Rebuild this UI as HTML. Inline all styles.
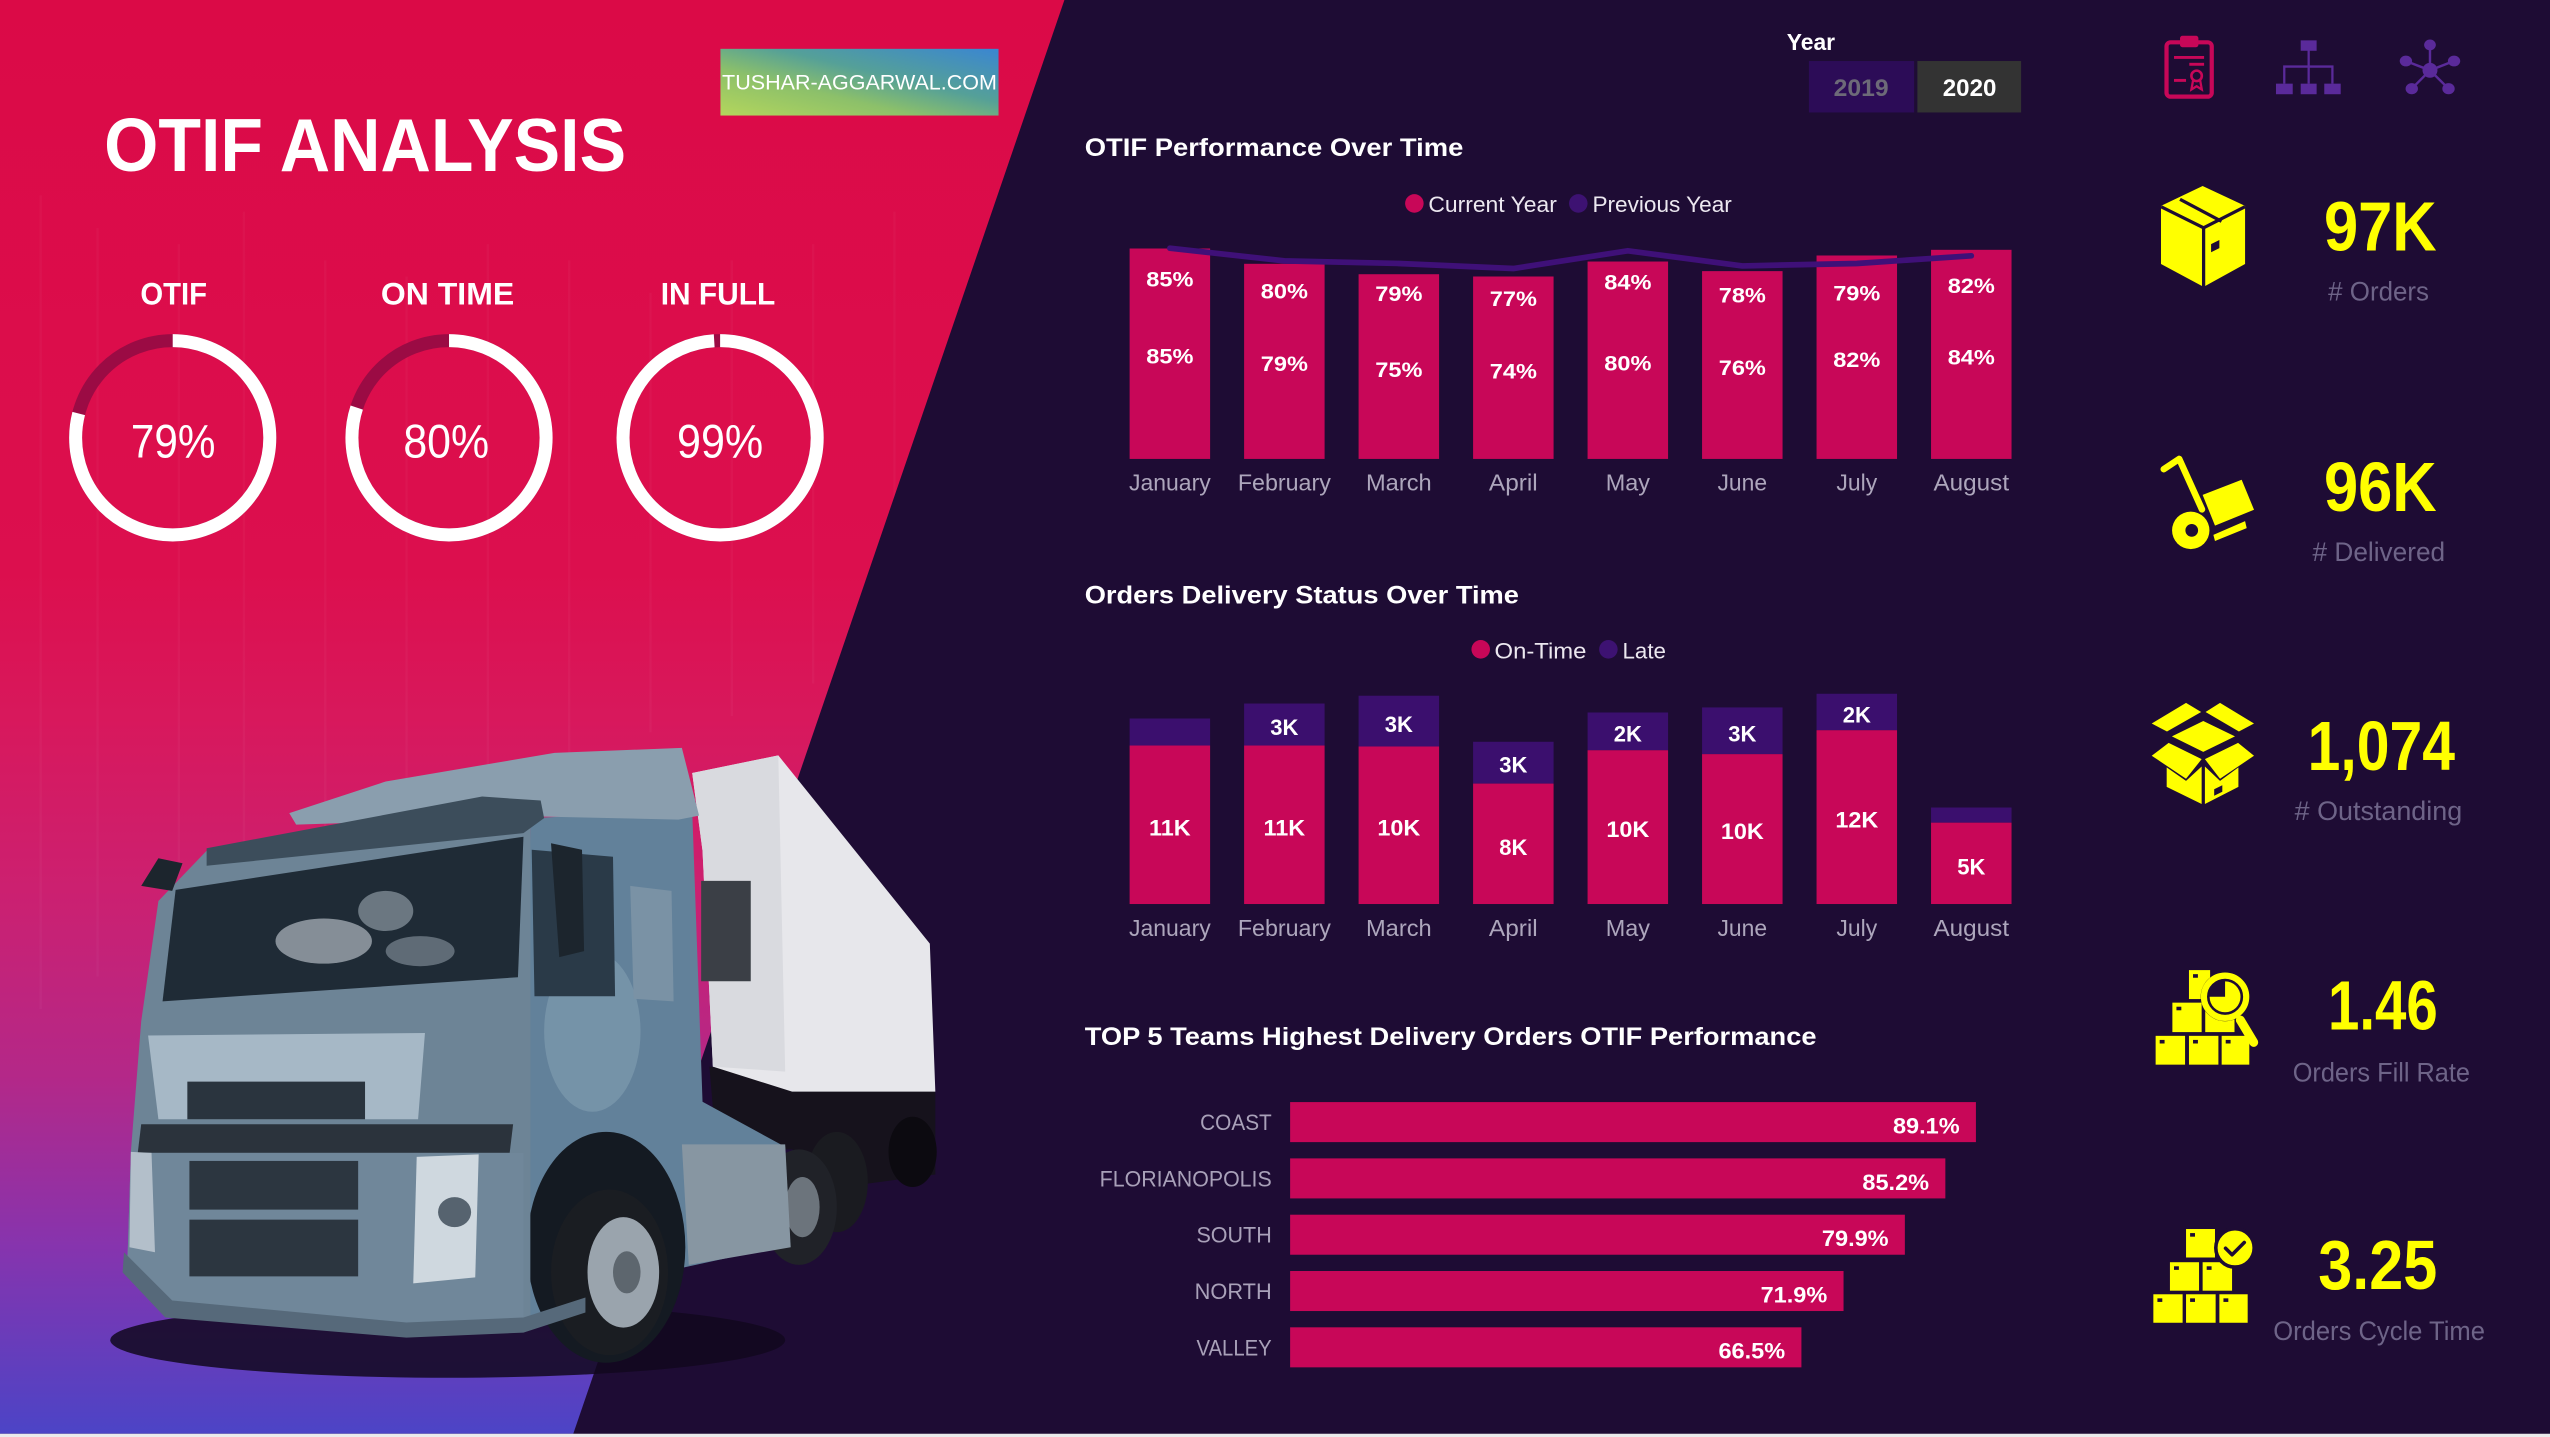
<!DOCTYPE html>
<html><head><meta charset="utf-8">
<style>
html,body{margin:0;padding:0;background:#1e0c34;width:2550px;height:1437px;overflow:hidden}
svg{display:block}
text{font-family:"Liberation Sans",Arial,sans-serif}
</style></head><body>
<svg width="2550" height="1437" viewBox="0 0 1568 883" preserveAspectRatio="none" xmlns="http://www.w3.org/2000/svg">
<defs>
<linearGradient id="lg" x1="0" y1="0" x2="0" y2="1">
 <stop offset="0" stop-color="#db0a47"/>
 <stop offset="0.4" stop-color="#dc0f4e"/>
 <stop offset="0.5" stop-color="#d8185c"/>
 <stop offset="0.62" stop-color="#cc2070"/>
 <stop offset="0.75" stop-color="#b42888"/>
 <stop offset="0.87" stop-color="#8634ae"/>
 <stop offset="1" stop-color="#4c44c6"/>
</linearGradient>
<linearGradient id="logo" x1="0" y1="1" x2="1" y2="0">
 <stop offset="0" stop-color="#b4d65c"/>
 <stop offset="0.35" stop-color="#8cc06a"/>
 <stop offset="0.6" stop-color="#55a098"/>
 <stop offset="1" stop-color="#3a86d2"/>
</linearGradient>
<clipPath id="lp"><polygon points="0,0 654.5,0 352.5,881 0,881"/></clipPath>
</defs>

<rect width="1568" height="883" fill="#1e0c34"/>
<polygon points="0,0 654.5,0 352.5,881 0,881" fill="url(#lg)"/>
<g clip-path="url(#lp)" stroke="#ffffff" stroke-opacity="0.03" stroke-width="1.5" fill="none">
 <line x1="25" y1="120" x2="25" y2="620"/><line x1="60" y1="140" x2="60" y2="600"/>
 <line x1="110" y1="150" x2="110" y2="610"/><line x1="150" y1="130" x2="150" y2="580"/>
 <line x1="200" y1="160" x2="200" y2="560"/><line x1="250" y1="170" x2="250" y2="540"/>
 <line x1="300" y1="150" x2="300" y2="500"/><line x1="350" y1="160" x2="350" y2="470"/>
 <line x1="400" y1="180" x2="400" y2="450"/><line x1="450" y1="160" x2="450" y2="440"/>
 <line x1="500" y1="150" x2="500" y2="420"/><line x1="550" y1="130" x2="550" y2="330"/>
</g>
<rect x="0" y="881" width="1568" height="2" fill="#ebebeb"/>

<!-- Truck -->
<g transform="translate(0,399.4) scale(0.42352,0.30841)">
 <ellipse cx="650" cy="1375" rx="490" ry="75" fill="#12081e" opacity="0.85"/>
 <polygon points="1030,830 1358,880 1358,1045 1250,1065 1150,995 1040,995" fill="#16121c"/>
 <ellipse cx="1325" cy="1000" rx="35" ry="70" fill="#0c0a10"/>
 <polygon points="1005,245 1130,210 1350,585 1358,880 1150,880 1035,830 1020,400" fill="#e7e7eb"/>
 <polygon points="1005,245 1130,210 1140,840 1035,830 1020,400" fill="#d9dadf"/>
 <rect x="1018" y="460" width="72" height="200" fill="#3b3f46"/>
 <ellipse cx="1215" cy="1060" rx="45" ry="100" fill="#1a1b20"/>
 <ellipse cx="1160" cy="1110" rx="55" ry="115" fill="#202228"/>
 <ellipse cx="1165" cy="1110" rx="25" ry="60" fill="#6c747c"/>
 <polygon points="770,335 1005,320 1020,900 1140,990 1145,1185 960,1240 850,1300 760,1335" fill="#62819a"/>
 <ellipse cx="860" cy="760" rx="70" ry="160" fill="#8fa8bb" opacity="0.45"/>
 <polygon points="990,985 1140,985 1148,1190 1000,1225" fill="#8796a2"/>
 <ellipse cx="880" cy="1190" rx="115" ry="230" fill="#141a22"/>
 <ellipse cx="885" cy="1240" rx="85" ry="165" fill="#1a1d22"/>
 <ellipse cx="905" cy="1240" rx="52" ry="110" fill="#9aa4ad"/>
 <ellipse cx="910" cy="1240" rx="20" ry="42" fill="#5d666e"/>
 <polygon points="420,325 560,262 805,205 990,195 1015,330 985,338 790,332 430,348" fill="#8a9eae"/>
 <polygon points="300,400 770,338 770,1335 590,1345 250,1300 185,1220 190,1000 205,740 230,500" fill="#6d8496"/>
 <polygon points="300,395 700,292 785,300 790,335 760,365 300,430" fill="#3c4d5b"/>
 <polygon points="255,478 760,372 752,652 236,700" fill="#1f2b36"/>
 <ellipse cx="470" cy="580" rx="70" ry="45" fill="#d8e0e8" opacity="0.55"/>
 <ellipse cx="560" cy="520" rx="40" ry="40" fill="#c8d4de" opacity="0.45"/>
 <ellipse cx="610" cy="600" rx="50" ry="30" fill="#c0ccd8" opacity="0.4"/>
 <polygon points="772,398 890,412 893,690 776,690" fill="#2a3a48"/>
 <polygon points="915,470 975,480 978,700 920,695" fill="#7a92a5"/>
 <polygon points="800,385 845,398 848,600 812,612" fill="#1c252d"/>
 <polygon points="205,470 230,415 265,425 250,480" fill="#1c252d"/>
 <polygon points="215,768 617,763 607,935 230,935" fill="#a6b8c6"/>
 <rect x="272" y="860" width="258" height="75" fill="#2a343e"/>
 <polygon points="205,945 745,945 740,1002 200,1002" fill="#2b333c"/>
 <polygon points="190,1002 760,1002 760,1330 590,1340 250,1296 185,1218" fill="#70879a"/>
 <rect x="275" y="1018" width="245" height="97" fill="#2c3640"/>
 <rect x="275" y="1135" width="245" height="113" fill="#2c3640"/>
 <polygon points="605,1010 695,1005 690,1250 600,1262" fill="#cfd8df"/>
 <ellipse cx="660" cy="1120" rx="24" ry="30" fill="#56636f"/>
 <polygon points="190,1000 220,1002 225,1200 188,1190" fill="#b3bfca"/>
 <polygon points="180,1200 250,1296 590,1340 760,1330 850,1290 850,1320 760,1360 590,1370 240,1330 178,1240" fill="#56697a"/>
</g>

<!-- Logo -->
<rect x="443" y="30" width="171" height="41" fill="url(#logo)"/>
<text x="444" y="55" font-size="13" fill="#ffffff" textLength="169" lengthAdjust="spacingAndGlyphs">TUSHAR-AGGARWAL.COM</text>

<!-- Title -->
<text x="64" y="105" font-size="46" font-weight="bold" fill="#ffffff" textLength="321" lengthAdjust="spacingAndGlyphs">OTIF ANALYSIS</text>

<!-- KPI rings -->
<g font-weight="bold" font-size="19.5" fill="#ffffff">
 <text x="86.3" y="187" textLength="41" lengthAdjust="spacingAndGlyphs">OTIF</text>
 <text x="234.2" y="187" textLength="82" lengthAdjust="spacingAndGlyphs">ON TIME</text>
 <text x="406.3" y="187" textLength="70.4" lengthAdjust="spacingAndGlyphs">IN FULL</text>
</g>
<g fill="none" stroke-width="8">
 <circle cx="106.2" cy="269" r="59.7" stroke="#9b0b44"/>
 <circle cx="106.2" cy="269" r="59.7" stroke="#ffffff" stroke-dasharray="296.3 400" transform="rotate(-90 106.2 269)"/>
 <circle cx="276.1" cy="269" r="59.7" stroke="#9b0b44"/>
 <circle cx="276.1" cy="269" r="59.7" stroke="#ffffff" stroke-dasharray="300.1 400" transform="rotate(-90 276.1 269)"/>
 <circle cx="442.8" cy="269" r="59.7" stroke="#9b0b44"/>
 <circle cx="442.8" cy="269" r="59.7" stroke="#ffffff" stroke-dasharray="371.3 400" transform="rotate(-90 442.8 269)"/>
</g>
<g font-size="29" fill="#ffffff">
 <text x="80.5" y="281" textLength="52" lengthAdjust="spacingAndGlyphs">79%</text>
 <text x="248" y="281" textLength="52.7" lengthAdjust="spacingAndGlyphs">80%</text>
 <text x="416.3" y="281" textLength="53" lengthAdjust="spacingAndGlyphs">99%</text>
</g>

<!-- Year slicer -->
<text x="1098.7" y="30.7" font-size="14" font-weight="bold" fill="#ffffff" textLength="29.7" lengthAdjust="spacingAndGlyphs">Year</text>
<rect x="1112.3" y="37.5" width="64.7" height="31.6" fill="#2c0c57"/>
<rect x="1179" y="37.5" width="63.8" height="31.6" fill="#333333"/>
<text x="1127.5" y="59" font-size="14.6" font-weight="bold" fill="#6d6a78" textLength="33.8" lengthAdjust="spacingAndGlyphs">2019</text>
<text x="1194.6" y="59" font-size="14.6" font-weight="bold" fill="#ffffff" textLength="33" lengthAdjust="spacingAndGlyphs">2020</text>

<!-- Chart 1 -->
<text x="667" y="95.9" font-size="15.2" font-weight="bold" fill="#ffffff" textLength="232.8" lengthAdjust="spacingAndGlyphs">OTIF Performance Over Time</text>
<circle cx="869.7" cy="125" r="5.7" fill="#c80758"/>
<text x="878.3" y="130.2" font-size="13.5" fill="#ece8f0" textLength="79" lengthAdjust="spacingAndGlyphs">Current Year</text>
<circle cx="970.5" cy="125" r="5.7" fill="#3d1272"/>
<text x="979.2" y="130.2" font-size="13.5" fill="#ece8f0" textLength="85.7" lengthAdjust="spacingAndGlyphs">Previous Year</text>

<g fill="#c80758">
 <rect x="694.6" y="152.7" width="49.5" height="129.3"/>
 <rect x="765.0" y="162.1" width="49.5" height="119.9"/>
 <rect x="835.4" y="168.5" width="49.5" height="113.5"/>
 <rect x="905.8" y="169.9" width="49.5" height="112.1"/>
 <rect x="976.2" y="160.7" width="49.5" height="121.3"/>
 <rect x="1046.6" y="166.6" width="49.5" height="115.4"/>
 <rect x="1117.0" y="157.0" width="49.5" height="125.0"/>
 <rect x="1187.4" y="153.5" width="49.5" height="128.5"/>
</g>
<polyline points="719.35,152.5 789.75,160.3 860.15,161.9 930.55,165.0 1000.95,154.1 1071.35,163.4 1141.75,161.9 1212.15,157.2" fill="none" stroke="#3f1078" stroke-width="3.5" stroke-linecap="round" stroke-linejoin="round"/>
<g font-size="13" font-weight="bold" fill="#ffffff" text-anchor="middle">
 <text x="719.35" y="176.0" textLength="29" lengthAdjust="spacingAndGlyphs">85%</text>
 <text x="789.75" y="183.3" textLength="29" lengthAdjust="spacingAndGlyphs">80%</text>
 <text x="860.15" y="185.0" textLength="29" lengthAdjust="spacingAndGlyphs">79%</text>
 <text x="930.55" y="188.0" textLength="29" lengthAdjust="spacingAndGlyphs">77%</text>
 <text x="1000.95" y="177.8" textLength="29" lengthAdjust="spacingAndGlyphs">84%</text>
 <text x="1071.35" y="185.8" textLength="29" lengthAdjust="spacingAndGlyphs">78%</text>
 <text x="1141.75" y="184.6" textLength="29" lengthAdjust="spacingAndGlyphs">79%</text>
 <text x="1212.15" y="180.0" textLength="29" lengthAdjust="spacingAndGlyphs">82%</text>
 <text x="719.35" y="223.3" textLength="29" lengthAdjust="spacingAndGlyphs">85%</text>
 <text x="789.75" y="228.0" textLength="29" lengthAdjust="spacingAndGlyphs">79%</text>
 <text x="860.15" y="231.7" textLength="29" lengthAdjust="spacingAndGlyphs">75%</text>
 <text x="930.55" y="232.5" textLength="29" lengthAdjust="spacingAndGlyphs">74%</text>
 <text x="1000.95" y="227.6" textLength="29" lengthAdjust="spacingAndGlyphs">80%</text>
 <text x="1071.35" y="230.5" textLength="29" lengthAdjust="spacingAndGlyphs">76%</text>
 <text x="1141.75" y="225.6" textLength="29" lengthAdjust="spacingAndGlyphs">82%</text>
 <text x="1212.15" y="223.9" textLength="29" lengthAdjust="spacingAndGlyphs">84%</text>
</g>
<g font-size="14" fill="#ada6bc" text-anchor="middle">
 <text x="719.35" y="301.3" textLength="50.3" lengthAdjust="spacingAndGlyphs">January</text>
 <text x="789.75" y="301.3" textLength="57.2" lengthAdjust="spacingAndGlyphs">February</text>
 <text x="860.15" y="301.3" textLength="40.4" lengthAdjust="spacingAndGlyphs">March</text>
 <text x="930.55" y="301.3" textLength="30" lengthAdjust="spacingAndGlyphs">April</text>
 <text x="1000.95" y="301.3" textLength="27.2" lengthAdjust="spacingAndGlyphs">May</text>
 <text x="1071.35" y="301.3" textLength="30.5" lengthAdjust="spacingAndGlyphs">June</text>
 <text x="1141.75" y="301.3" textLength="25.1" lengthAdjust="spacingAndGlyphs">July</text>
 <text x="1212.15" y="301.3" textLength="46.5" lengthAdjust="spacingAndGlyphs">August</text>
</g>

<!-- Chart 2 -->
<text x="667" y="370.7" font-size="15.5" font-weight="bold" fill="#ffffff" textLength="267" lengthAdjust="spacingAndGlyphs">Orders Delivery Status Over Time</text>
<circle cx="910.5" cy="399" r="5.7" fill="#c80758"/>
<text x="919" y="404.5" font-size="13.5" fill="#ece8f0" textLength="56.5" lengthAdjust="spacingAndGlyphs">On-Time</text>
<circle cx="989" cy="399" r="5.7" fill="#3d1272"/>
<text x="997.7" y="404.5" font-size="13.5" fill="#ece8f0" textLength="26.7" lengthAdjust="spacingAndGlyphs">Late</text>

<g fill="#3b0f6e">
 <rect x="694.6" y="441.5" width="49.5" height="16.6"/>
 <rect x="765.0" y="432.3" width="49.5" height="25.8"/>
 <rect x="835.4" y="427.5" width="49.5" height="31.2"/>
 <rect x="905.8" y="455.8" width="49.5" height="25.7"/>
 <rect x="976.2" y="437.8" width="49.5" height="23.2"/>
 <rect x="1046.6" y="434.7" width="49.5" height="28.7"/>
 <rect x="1117.0" y="426.3" width="49.5" height="22.4"/>
 <rect x="1187.4" y="496.2" width="49.5" height="9.3"/>
</g>
<g fill="#c80758">
 <rect x="694.6" y="458.1" width="49.5" height="97.4"/>
 <rect x="765.0" y="458.1" width="49.5" height="97.4"/>
 <rect x="835.4" y="458.7" width="49.5" height="96.8"/>
 <rect x="905.8" y="481.5" width="49.5" height="74.0"/>
 <rect x="976.2" y="461.0" width="49.5" height="94.5"/>
 <rect x="1046.6" y="463.4" width="49.5" height="92.1"/>
 <rect x="1117.0" y="448.7" width="49.5" height="106.8"/>
 <rect x="1187.4" y="505.5" width="49.5" height="50.0"/>
</g>
<g font-size="13.5" font-weight="bold" fill="#ffffff" text-anchor="middle">
 <text x="719.35" y="513.3" textLength="25.6" lengthAdjust="spacingAndGlyphs">11K</text>
 <text x="789.75" y="513.3" textLength="25.6" lengthAdjust="spacingAndGlyphs">11K</text>
 <text x="860.15" y="513.3" textLength="26.4" lengthAdjust="spacingAndGlyphs">10K</text>
 <text x="930.55" y="525.4" textLength="17.3" lengthAdjust="spacingAndGlyphs">8K</text>
 <text x="1000.95" y="514.3" textLength="26.4" lengthAdjust="spacingAndGlyphs">10K</text>
 <text x="1071.35" y="515.7" textLength="26.4" lengthAdjust="spacingAndGlyphs">10K</text>
 <text x="1141.75" y="508.6" textLength="26.4" lengthAdjust="spacingAndGlyphs">12K</text>
 <text x="1212.15" y="537.3" textLength="17.3" lengthAdjust="spacingAndGlyphs">5K</text>
 <text x="789.75" y="451.5" textLength="17.3" lengthAdjust="spacingAndGlyphs">3K</text>
 <text x="860.15" y="449.8" textLength="17.3" lengthAdjust="spacingAndGlyphs">3K</text>
 <text x="930.55" y="474.8" textLength="17.3" lengthAdjust="spacingAndGlyphs">3K</text>
 <text x="1000.95" y="455.7" textLength="17.3" lengthAdjust="spacingAndGlyphs">2K</text>
 <text x="1071.35" y="455.7" textLength="17.3" lengthAdjust="spacingAndGlyphs">3K</text>
 <text x="1141.75" y="444.0" textLength="17.3" lengthAdjust="spacingAndGlyphs">2K</text>
</g>
<g font-size="14" fill="#ada6bc" text-anchor="middle">
 <text x="719.35" y="575.2" textLength="50.3" lengthAdjust="spacingAndGlyphs">January</text>
 <text x="789.75" y="575.2" textLength="57.2" lengthAdjust="spacingAndGlyphs">February</text>
 <text x="860.15" y="575.2" textLength="40.4" lengthAdjust="spacingAndGlyphs">March</text>
 <text x="930.55" y="575.2" textLength="30" lengthAdjust="spacingAndGlyphs">April</text>
 <text x="1000.95" y="575.2" textLength="27.2" lengthAdjust="spacingAndGlyphs">May</text>
 <text x="1071.35" y="575.2" textLength="30.5" lengthAdjust="spacingAndGlyphs">June</text>
 <text x="1141.75" y="575.2" textLength="25.1" lengthAdjust="spacingAndGlyphs">July</text>
 <text x="1212.15" y="575.2" textLength="46.5" lengthAdjust="spacingAndGlyphs">August</text>
</g>

<!-- Chart 3 -->
<text x="667" y="642.2" font-size="15.5" font-weight="bold" fill="#ffffff" textLength="450" lengthAdjust="spacingAndGlyphs">TOP 5 Teams Highest Delivery Orders OTIF Performance</text>
<g fill="#c80758">
 <rect x="793.3" y="677.2" width="421.7" height="24.6"/>
 <rect x="793.3" y="711.8" width="402.9" height="24.6"/>
 <rect x="793.3" y="746.4" width="378.0" height="24.6"/>
 <rect x="793.3" y="781.0" width="340.3" height="24.6"/>
 <rect x="793.3" y="815.6" width="314.4" height="24.6"/>
</g>
<g font-size="13.7" fill="#a9a1b9" text-anchor="end">
 <text x="782" y="694.4" textLength="44" lengthAdjust="spacingAndGlyphs">COAST</text>
 <text x="782" y="729.0" textLength="105.8" lengthAdjust="spacingAndGlyphs">FLORIANOPOLIS</text>
 <text x="782" y="763.6" textLength="46.3" lengthAdjust="spacingAndGlyphs">SOUTH</text>
 <text x="782" y="798.2" textLength="47.4" lengthAdjust="spacingAndGlyphs">NORTH</text>
 <text x="782" y="832.8" textLength="46.3" lengthAdjust="spacingAndGlyphs">VALLEY</text>
</g>
<g font-size="13.8" font-weight="bold" fill="#ffffff" text-anchor="end">
 <text x="1205" y="696.5" textLength="41" lengthAdjust="spacingAndGlyphs">89.1%</text>
 <text x="1186.2" y="731.1" textLength="41" lengthAdjust="spacingAndGlyphs">85.2%</text>
 <text x="1161.3" y="765.7" textLength="41" lengthAdjust="spacingAndGlyphs">79.9%</text>
 <text x="1123.6" y="800.3" textLength="41" lengthAdjust="spacingAndGlyphs">71.9%</text>
 <text x="1097.7" y="834.9" textLength="41" lengthAdjust="spacingAndGlyphs">66.5%</text>
</g>

<!-- Top-right nav icons -->
<g>
 <rect x="1332.2" y="26" width="27.8" height="33.4" rx="2.5" fill="none" stroke="#c80758" stroke-width="2.6"/>
 <rect x="1340.5" y="22" width="11.3" height="7" rx="1.5" fill="#c80758"/>
 <line x1="1336.8" y1="35.3" x2="1355.3" y2="35.3" stroke="#c80758" stroke-width="1.8"/>
 <line x1="1346.2" y1="39.5" x2="1355.3" y2="39.5" stroke="#c80758" stroke-width="1.8"/>
 <line x1="1336.8" y1="49.4" x2="1344.2" y2="49.4" stroke="#c80758" stroke-width="1.8"/>
 <circle cx="1350.7" cy="46.6" r="3.2" fill="none" stroke="#c80758" stroke-width="1.6"/>
 <polyline points="1348.5,49.5 1347.5,55 1350.7,53 1353.9,55 1352.9,49.5" fill="none" stroke="#c80758" stroke-width="1.4"/>
</g>
<g fill="#5a2a9a">
 <rect x="1414.7" y="24.8" width="9.8" height="6.4"/>
 <rect x="1399.5" y="51.4" width="10.3" height="6.5"/>
 <rect x="1414.7" y="51.4" width="9.8" height="6.5"/>
 <rect x="1429.2" y="51.4" width="10.1" height="6.5"/>
 <g stroke="#5a2a9a" stroke-width="1.4" fill="none">
  <line x1="1419.6" y1="31" x2="1419.6" y2="51.4"/>
  <polyline points="1404.6,51.4 1404.6,40.9 1434.2,40.9 1434.2,51.4"/>
 </g>
</g>
<g fill="#5a2a9a" stroke="#5a2a9a" stroke-width="1.5">
 <line x1="1494.2" y1="43.2" x2="1494.2" y2="27.6"/>
 <line x1="1494.2" y1="43.2" x2="1479.4" y2="37.5"/>
 <line x1="1494.2" y1="43.2" x2="1509" y2="37.5"/>
 <line x1="1494.2" y1="43.2" x2="1483" y2="54.5"/>
 <line x1="1494.2" y1="43.2" x2="1505.6" y2="54.5"/>
 <circle cx="1494.2" cy="43.2" r="4.6" stroke="none"/>
 <ellipse cx="1494.2" cy="27.6" rx="3.6" ry="3.3" stroke="none"/>
 <ellipse cx="1479.4" cy="37.5" rx="3.8" ry="3.3" stroke="none"/>
 <ellipse cx="1509" cy="37.5" rx="3.8" ry="3.3" stroke="none"/>
 <ellipse cx="1483" cy="54.5" rx="3.8" ry="3.4" stroke="none"/>
 <ellipse cx="1505.6" cy="54.5" rx="3.8" ry="3.4" stroke="none"/>
</g>

<!-- KPI icons -->
<polygon points="1354.4,114.3 1380.5,126.5 1380.5,162.2 1355,176.3 1328.8,162.2 1328.8,126.5" fill="#ffff00"/>
<g stroke="#1e0c34" stroke-width="2" fill="none">
 <polyline points="1328.8,127 1355,140 1380.5,127"/>
 <line x1="1355" y1="140" x2="1355" y2="177"/>
 <line x1="1340.5" y1="122.5" x2="1366" y2="136"/>
</g>
<polygon points="1359.6,150 1364.7,147.5 1364.7,152.5 1359.6,155" fill="#1e0c34"/>
<g fill="#ffff00">
 <polygon points="1354.4,304.1 1378.4,294.8 1386,313.2 1362,323"/>
 <polygon points="1361,328.7 1380.5,320.2 1381.5,324.5 1362,332.4"/>
 <circle cx="1347.1" cy="325.9" r="11.5"/>
</g>
<circle cx="1347.7" cy="325.9" r="3.9" fill="#1e0c34"/>
<polyline points="1330.5,288.3 1340,282 1354,313" fill="none" stroke="#ffff00" stroke-width="4" stroke-linecap="round" stroke-linejoin="round"/>
<g fill="#ffff00">
 <polygon points="1323.1,444.6 1344.2,431.9 1353.5,437.5 1332.5,449.5"/>
 <polygon points="1356.2,437.5 1365.1,431.9 1386,444.6 1376.7,449.5"/>
 <polygon points="1335.5,452.5 1354.8,443 1374.3,452.5 1354.8,462"/>
 <polygon points="1323.1,464.4 1333.5,456.5 1353.8,466.5 1344.2,478.5"/>
 <polygon points="1355.8,466.5 1376.2,456.5 1386,464.4 1365.1,478.5"/>
 <polygon points="1332.3,471.5 1344.2,479.8 1353.8,471 1353.8,494 1332.3,483.5"/>
 <polygon points="1355.8,471 1365.1,479.8 1376.4,471.5 1376.4,483.5 1355.8,494"/>
</g>
<polygon points="1361.5,485 1366.5,482.5 1366.5,486.5 1361.5,489" fill="#1e0c34"/>
<g fill="#ffff00">
 <rect x="1325.5" y="636.5" width="18.1" height="17.7"/>
 <rect x="1346" y="636.5" width="18.1" height="17.7"/>
 <rect x="1366.1" y="636.5" width="17" height="17.7"/>
 <rect x="1335.8" y="616.1" width="18" height="18.1"/>
 <rect x="1356" y="616.1" width="18" height="18.1"/>
 <rect x="1346" y="596.1" width="13" height="17.8"/>
</g>
<g fill="#1e0c34">
 <rect x="1328" y="639" width="3" height="2.2"/><rect x="1348.5" y="639" width="3" height="2.2"/>
 <rect x="1368.6" y="639" width="3" height="2.2"/><rect x="1338.3" y="618.6" width="3" height="2.2"/>
 <rect x="1348.5" y="598.6" width="3" height="2.2"/>
</g>
<circle cx="1368.2" cy="612.5" r="15" fill="#1e0c34"/>
<circle cx="1368.2" cy="612.5" r="13" fill="none" stroke="#ffff00" stroke-width="3.8"/>
<path d="M1368.2,612.5 L1368.2,603 A9.5,9.5 0 1,1 1358.7,612.5 Z" fill="#ffff00"/>
<line x1="1377.6" y1="626.8" x2="1385.8" y2="640.5" stroke="#ffff00" stroke-width="5.5" stroke-linecap="round"/>
<g fill="#ffff00">
 <rect x="1324.1" y="795.3" width="18" height="17.5"/>
 <rect x="1344.2" y="795.3" width="18.2" height="17.5"/>
 <rect x="1364.7" y="795.3" width="17.4" height="17.5"/>
 <rect x="1334.3" y="775.6" width="17.9" height="17.5"/>
 <rect x="1354.4" y="775.6" width="18.1" height="17.5"/>
 <rect x="1344.2" y="755.2" width="17.8" height="17.5"/>
</g>
<g fill="#1e0c34">
 <rect x="1326.6" y="797.8" width="3" height="2.2"/><rect x="1346.7" y="797.8" width="3" height="2.2"/>
 <rect x="1367.2" y="797.8" width="3" height="2.2"/><rect x="1336.8" y="778.1" width="3" height="2.2"/>
 <rect x="1356.9" y="778.1" width="3" height="2.2"/><rect x="1346.7" y="757.7" width="3" height="2.2"/>
</g>
<circle cx="1374.3" cy="766.8" r="11.8" fill="#ffff00" stroke="#1e0c34" stroke-width="2.2"/>
<polyline points="1368.5,767 1372.5,771 1380,763.5" fill="none" stroke="#1e0c34" stroke-width="2.2" stroke-linecap="round" stroke-linejoin="round"/>

<!-- KPI values -->
<g font-size="43" font-weight="bold" fill="#ffff00">
 <text x="1429" y="153.8" textLength="69.3" lengthAdjust="spacingAndGlyphs">97K</text>
 <text x="1429" y="314" textLength="69.3" lengthAdjust="spacingAndGlyphs">96K</text>
 <text x="1419" y="473" textLength="90.6" lengthAdjust="spacingAndGlyphs">1,074</text>
 <text x="1431.5" y="632.7" textLength="67.5" lengthAdjust="spacingAndGlyphs">1.46</text>
 <text x="1425.5" y="792.2" textLength="73.2" lengthAdjust="spacingAndGlyphs">3.25</text>
</g>
<g font-size="16.5" fill="#6e6488">
 <text x="1431.6" y="184.8" textLength="62" lengthAdjust="spacingAndGlyphs"># Orders</text>
 <text x="1422" y="344.8" textLength="81.5" lengthAdjust="spacingAndGlyphs"># Delivered</text>
 <text x="1411" y="503.9" textLength="103" lengthAdjust="spacingAndGlyphs"># Outstanding</text>
 <text x="1409.8" y="664.7" textLength="109" lengthAdjust="spacingAndGlyphs">Orders Fill Rate</text>
 <text x="1397.8" y="823.3" textLength="130.2" lengthAdjust="spacingAndGlyphs">Orders Cycle Time</text>
</g>
</svg>
</body></html>
